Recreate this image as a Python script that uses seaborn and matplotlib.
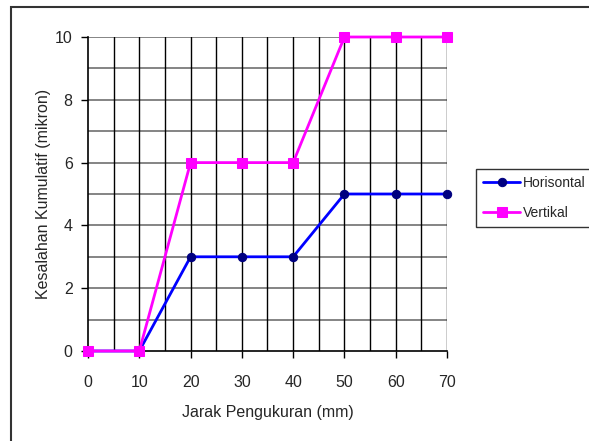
import pandas as pd
import matplotlib.pyplot as plt
import matplotlib.patches as patches
import seaborn as sns

# data
jarak = [0, 10, 20, 30, 40, 50, 60, 70]
horisontal = [0, 0, 3, 3, 3, 5, 5, 5]
vertikal = [0, 0, 6, 6, 6, 10, 10, 10]

df = pd.DataFrame({"jarak": jarak, "Horisontal": horisontal, "Vertikal": vertikal})

sns.set_style("white")
plt.rcParams['font.family'] = ['Liberation Sans', 'DejaVu Sans']

fig = plt.figure(figsize=(5.89, 4.41), dpi=100)
ax = fig.add_axes([88 / 589, 1 - 351 / 441, (447 - 88) / 589, (351 - 37) / 441])

# grid: horizontal every 1 (grey), vertical every 5 (black)
for y in range(1, 11):
    ax.axhline(y, color="#707070", lw=1.2, zorder=1)
for x in range(5, 71, 5):
    ax.axvline(x, color="black", lw=1.0, zorder=1)

sns.lineplot(data=df, x="jarak", y="Horisontal", ax=ax, color="#0000FF", lw=2,
             marker="o", markersize=6, markerfacecolor="#000080",
             markeredgecolor="#000080", label="Horisontal", zorder=3,
             clip_on=False)
sns.lineplot(data=df, x="jarak", y="Vertikal", ax=ax, color="#FF00FF", lw=2,
             marker="s", markersize=7, markerfacecolor="#FF00FF",
             markeredgecolor="#FF00FF", label="Vertikal", zorder=4,
             clip_on=False)

ax.set_xlim(0, 70)
ax.set_ylim(0, 10)
ax.set_xticks(range(0, 71, 10))
ax.set_yticks(range(0, 11, 2))
ax.tick_params(axis="both", direction="out", length=5, width=1, color="black",
               labelsize=11.5, pad=6, bottom=True, left=True)
ax.tick_params(axis="x", pad=12)
for side in ["left", "bottom"]:
    ax.spines[side].set_color("black")
    ax.spines[side].set_linewidth(1.2)
ax.spines["top"].set_visible(False)
ax.spines["right"].set_visible(False)

ax.set_xlabel("Jarak Pengukuran (mm)", fontsize=11.5, labelpad=11)
ax.set_ylabel("Kesalahan Kumulatif (mikron)", fontsize=11.5, labelpad=3)

ax.legend(loc="upper left", bbox_to_anchor=(476 / 589, 1 - 169 / 441),
          bbox_transform=fig.transFigure, frameon=True, fancybox=False,
          edgecolor="black", fontsize=10, handlelength=2.7, handletextpad=0.2,
          borderpad=0.5, labelspacing=1.15, borderaxespad=0)
ax.get_legend().get_frame().set_linewidth(1)

# outer chart frame (left and top edges visible)
fig.patches.append(patches.Rectangle((11 / 589, -0.1), 1.2, 1.1 - 7 / 441,
                                     transform=fig.transFigure, fill=False,
                                     edgecolor="#333333", lw=1.5))

plt.savefig("out.png", dpi=100)
plt.close()
